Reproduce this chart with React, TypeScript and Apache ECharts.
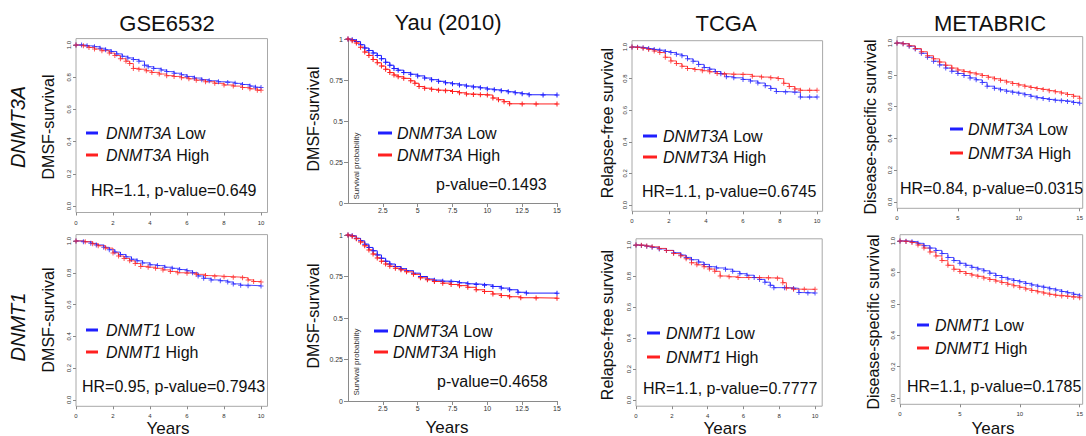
import React, { useEffect, useRef } from 'react';
import * as echarts from 'echarts';

type Pt = [number, number];

// ---------- text content ----------
const columnTitles = ['GSE6532', 'Yau (2010)', 'TCGA', 'METABRIC'];
const rowGenes = ['DNMT3A', 'DNMT1'];
const yAxisNames = ['DMSF-survival', 'DMSF-survival', 'Relapse-free survival', 'Disease-specific survival'];
const legendGenes = [
  ['DNMT3A', 'DNMT3A', 'DNMT3A', 'DNMT3A'],
  ['DNMT1', 'DNMT3A', 'DNMT1', 'DNMT1'],
];
const statTexts = [
  ['HR=1.1, p-value=0.649', 'p-value=0.1493', 'HR=1.1, p-value=0.6745', 'HR=0.84, p-value=0.0315'],
  ['HR=0.95, p-value=0.7943', 'p-value=0.4658', 'HR=1.1, p-value=0.7777', 'HR=1.1, p-value=0.1785'],
];
const xTicks10 = [0, 2, 4, 6, 8, 10];
const xTicks15 = [0, 5, 10, 15];
const yauXTicks = [2.5, 5, 7.5, 10, 12.5, 15];
const rYTicks = [0, 0.2, 0.4, 0.6, 0.8, 1];
const yauYTicks = [0, 0.25, 0.5, 0.75, 1];

// ---------- survival curves (time in years, survival probability) ----------
const gseA_low: Pt[] = [[0,1],[0.3,1],[0.6,0.995],[1.0,0.99],[1.3,0.98],[1.6,0.97],[1.9,0.96],[2.2,0.945],[2.5,0.93],[2.8,0.92],[3.1,0.91],[3.4,0.9],[3.7,0.875],[3.9,0.865],[4.2,0.855],[4.6,0.845],[4.9,0.835],[5.3,0.825],[5.7,0.815],[6.0,0.805],[6.4,0.795],[6.8,0.785],[7.2,0.778],[7.7,0.772],[8.2,0.768],[8.6,0.762],[9.0,0.755],[9.4,0.745],[9.7,0.738],[10,0.737]];
const gseA_high: Pt[] = [[0,1],[0.4,0.995],[0.7,0.985],[1.0,0.975],[1.4,0.965],[1.8,0.95],[2.1,0.935],[2.4,0.915],[2.7,0.9],[2.9,0.885],[3.1,0.855],[3.4,0.85],[3.8,0.84],[4.1,0.83],[4.5,0.82],[4.9,0.81],[5.3,0.805],[5.7,0.797],[6.1,0.79],[6.5,0.782],[7.0,0.772],[7.5,0.762],[8.0,0.752],[8.5,0.745],[9.0,0.736],[9.4,0.728],[9.8,0.72],[10,0.72]];
const gse1_low: Pt[] = [[0,1],[0.4,0.995],[0.8,0.985],[1.1,0.975],[1.5,0.96],[1.8,0.945],[2.1,0.93],[2.4,0.915],[2.7,0.9],[3.0,0.885],[3.3,0.875],[3.6,0.862],[4.0,0.85],[4.4,0.845],[4.8,0.835],[5.2,0.828],[5.6,0.82],[6.0,0.812],[6.3,0.8],[6.6,0.78],[6.9,0.765],[7.3,0.755],[7.8,0.75],[8.2,0.742],[8.5,0.73],[8.9,0.722],[9.3,0.718],[10,0.717]];
const gse1_high: Pt[] = [[0,1],[0.5,0.995],[0.9,0.982],[1.2,0.97],[1.6,0.955],[2.0,0.925],[2.3,0.905],[2.6,0.89],[2.9,0.875],[3.2,0.858],[3.5,0.84],[3.9,0.835],[4.3,0.828],[4.7,0.818],[5.1,0.808],[5.5,0.8],[6.0,0.797],[6.5,0.79],[7.0,0.782],[7.5,0.778],[8.0,0.775],[8.5,0.772],[9.0,0.768],[9.3,0.755],[9.6,0.745],[10,0.742]];

const yauA_low: Pt[] = [[0,1],[0.3,0.995],[0.6,0.985],[0.9,0.965],[1.2,0.945],[1.5,0.93],[1.8,0.915],[2.1,0.9],[2.4,0.88],[2.7,0.858],[3.0,0.84],[3.3,0.82],[3.6,0.81],[4.0,0.795],[4.5,0.785],[5.0,0.775],[5.5,0.762],[6.0,0.752],[6.5,0.742],[7.0,0.733],[7.5,0.727],[8.0,0.72],[8.5,0.713],[9.0,0.708],[9.5,0.702],[10.0,0.695],[10.5,0.69],[11.0,0.685],[11.5,0.678],[12.0,0.672],[12.5,0.666],[13.0,0.66],[14.0,0.659],[15,0.659]];
const yauA_high: Pt[] = [[0,1],[0.3,0.99],[0.6,0.975],[0.9,0.95],[1.2,0.92],[1.5,0.9],[1.8,0.875],[2.1,0.855],[2.4,0.835],[2.7,0.815],[3.0,0.795],[3.3,0.78],[3.6,0.77],[4.0,0.76],[4.5,0.745],[4.8,0.73],[5.1,0.71],[5.5,0.7],[6.0,0.693],[6.5,0.688],[7.0,0.685],[7.5,0.68],[8.0,0.672],[8.5,0.665],[9.0,0.662],[9.5,0.66],[10.0,0.658],[10.4,0.64],[10.8,0.63],[11.2,0.618],[11.6,0.605],[12.5,0.604],[13.5,0.604],[15,0.604]];
const yau1_low: Pt[] = [[0,1],[0.3,0.995],[0.6,0.98],[0.9,0.965],[1.2,0.945],[1.5,0.925],[1.8,0.905],[2.1,0.88],[2.4,0.86],[2.7,0.842],[3.0,0.825],[3.4,0.81],[3.8,0.797],[4.2,0.785],[4.7,0.77],[5.2,0.75],[5.7,0.735],[6.2,0.728],[6.8,0.722],[7.4,0.718],[8.0,0.712],[8.6,0.706],[9.2,0.702],[9.8,0.698],[10.4,0.69],[11.0,0.68],[11.6,0.67],[12.2,0.655],[12.8,0.65],[15,0.649]];
const yau1_high: Pt[] = [[0,1],[0.3,0.993],[0.6,0.978],[0.9,0.958],[1.2,0.935],[1.5,0.91],[1.8,0.885],[2.1,0.862],[2.4,0.842],[2.7,0.825],[3.0,0.812],[3.4,0.8],[3.8,0.79],[4.2,0.778],[4.7,0.763],[5.2,0.742],[5.7,0.73],[6.2,0.72],[6.8,0.71],[7.4,0.702],[8.0,0.695],[8.6,0.685],[9.2,0.67],[9.8,0.66],[10.4,0.645],[11.0,0.635],[11.6,0.628],[12.4,0.622],[13.5,0.62],[15,0.619]];

const tcgaA_low: Pt[] = [[0,1],[0.3,0.998],[0.6,0.995],[0.9,0.99],[1.2,0.985],[1.5,0.98],[1.8,0.972],[2.1,0.965],[2.4,0.955],[2.7,0.945],[3.0,0.925],[3.3,0.91],[3.6,0.89],[3.9,0.87],[4.2,0.86],[4.5,0.845],[4.8,0.83],[5.1,0.812],[5.5,0.805],[6.0,0.795],[6.4,0.785],[6.8,0.772],[7.2,0.755],[7.5,0.738],[7.8,0.718],[8.3,0.715],[8.8,0.714],[9.1,0.683],[9.6,0.683],[10,0.683]];
const tcgaA_high: Pt[] = [[0,1],[0.3,0.997],[0.6,0.992],[0.9,0.985],[1.2,0.975],[1.5,0.965],[1.8,0.935],[2.1,0.912],[2.4,0.895],[2.7,0.878],[3.0,0.864],[3.4,0.857],[3.8,0.85],[4.2,0.843],[4.6,0.832],[5.0,0.828],[5.5,0.828],[6.0,0.826],[6.5,0.815],[7.0,0.81],[7.5,0.805],[7.9,0.8],[8.2,0.77],[8.5,0.75],[8.8,0.735],[9.1,0.726],[9.6,0.726],[10,0.726]];
const tcga1_low: Pt[] = [[0,1],[0.3,0.997],[0.6,0.992],[0.9,0.985],[1.3,0.975],[1.7,0.965],[2.1,0.95],[2.5,0.935],[2.8,0.92],[3.1,0.905],[3.5,0.89],[3.8,0.875],[4.1,0.86],[4.5,0.852],[5.0,0.844],[5.4,0.83],[5.8,0.815],[6.2,0.805],[6.6,0.79],[6.9,0.778],[7.2,0.76],[7.5,0.74],[7.7,0.725],[8.3,0.724],[8.8,0.72],[9.1,0.693],[9.6,0.69],[10,0.69]];
const tcga1_high: Pt[] = [[0,1],[0.3,0.998],[0.6,0.993],[0.9,0.988],[1.3,0.978],[1.7,0.965],[2.1,0.945],[2.5,0.93],[2.8,0.912],[3.1,0.885],[3.4,0.872],[3.8,0.86],[4.1,0.845],[4.4,0.83],[4.7,0.8],[5.2,0.795],[5.7,0.79],[6.3,0.79],[6.9,0.788],[7.4,0.788],[7.9,0.785],[8.2,0.757],[8.4,0.722],[8.8,0.715],[9.4,0.714],[10,0.714]];

const metaA_low: Pt[] = [[0,1],[0.5,0.995],[1.0,0.98],[1.5,0.962],[2.0,0.935],[2.5,0.91],[3.0,0.885],[3.5,0.862],[4.0,0.842],[4.5,0.822],[5.0,0.808],[5.5,0.795],[6.0,0.78],[6.5,0.768],[7.0,0.752],[7.4,0.728],[8.0,0.715],[8.5,0.705],[9.0,0.697],[9.5,0.69],[10.0,0.684],[10.5,0.675],[11.0,0.665],[11.5,0.656],[12.0,0.65],[12.5,0.645],[13.0,0.64],[13.5,0.636],[14.0,0.632],[14.5,0.626],[15,0.621]];
const metaA_high: Pt[] = [[0,1],[0.5,0.995],[1.0,0.982],[1.5,0.965],[2.0,0.945],[2.5,0.92],[3.0,0.9],[3.5,0.88],[4.0,0.86],[4.5,0.842],[5.0,0.83],[5.5,0.82],[6.0,0.812],[6.5,0.805],[7.0,0.795],[7.5,0.785],[8.0,0.775],[8.5,0.765],[9.0,0.755],[9.5,0.745],[10.0,0.736],[10.5,0.728],[11.0,0.72],[11.5,0.713],[12.0,0.708],[12.5,0.7],[13.0,0.693],[13.5,0.685],[14.0,0.676],[14.5,0.665],[15,0.652]];
const meta1_low: Pt[] = [[0,1],[0.5,0.998],[1.0,0.995],[1.5,0.985],[2.0,0.97],[2.5,0.955],[3.0,0.94],[3.5,0.92],[4.0,0.895],[4.5,0.875],[5.0,0.858],[5.5,0.845],[6.0,0.832],[6.5,0.822],[7.0,0.81],[7.5,0.795],[8.0,0.78],[8.5,0.768],[9.0,0.758],[9.5,0.748],[10.0,0.74],[10.5,0.73],[11.0,0.72],[11.5,0.712],[12.0,0.705],[12.5,0.696],[13.0,0.688],[13.5,0.678],[14.0,0.67],[14.5,0.66],[15,0.652]];
const meta1_high: Pt[] = [[0,1],[0.5,0.997],[1.0,0.99],[1.5,0.975],[2.0,0.955],[2.5,0.93],[3.0,0.905],[3.5,0.875],[4.0,0.845],[4.5,0.82],[5.0,0.805],[5.5,0.793],[6.0,0.783],[6.5,0.775],[7.0,0.765],[7.5,0.755],[8.0,0.745],[8.5,0.735],[9.0,0.725],[9.5,0.715],[10.0,0.705],[10.5,0.695],[11.0,0.685],[11.5,0.676],[12.0,0.668],[12.5,0.66],[13.0,0.654],[13.5,0.65],[14.0,0.646],[14.5,0.642],[15,0.639]];

// ---------- layout (pixels) ----------
const FF = "'Liberation Sans', Arial, Helvetica, sans-serif";
const BLUE = '#1f1fff';
const RED = '#ff2020';
const PLUS = 'path://M2,0H3V2H5V3H3V5H2V3H0V2H2Z';

type Panel = {
  row: number; col: number; yau: boolean;
  left: number; top: number; width: number; height: number;
  xMax: number; xTicks: number[];
  low: Pt[]; high: Pt[];
  lx1: number; lx2: number; ly: number; ly2: number; tx: number;
  sx: number; sy: number; nx: number; ny: number;
};

const panels: Panel[] = [
  { row: 0, col: 0, yau: false, left: 76, top: 38.6, width: 191.5, height: 173.9, xMax: 10.35, xTicks: xTicks10, low: gseA_low, high: gseA_high, lx1: 86, lx2: 98, ly: 133, ly2: 155, tx: 106, sx: 91, sy: 190, nx: 48, ny: 127 },
  { row: 0, col: 1, yau: true, left: 348, top: 39, width: 209, height: 164, xMax: 15, xTicks: yauXTicks, low: yauA_low, high: yauA_high, lx1: 378, lx2: 392, ly: 133, ly2: 155, tx: 397, sx: 436, sy: 184, nx: 313, ny: 119 },
  { row: 0, col: 2, yau: false, left: 632, top: 40.7, width: 190.6, height: 170.6, xMax: 10.3, xTicks: xTicks10, low: tcgaA_low, high: tcgaA_high, lx1: 643, lx2: 657, ly: 136, ly2: 157, tx: 663, sx: 642, sy: 191, nx: 607, ny: 123 },
  { row: 0, col: 3, yau: false, left: 897, top: 36.6, width: 186, height: 171.7, xMax: 15.25, xTicks: xTicks15, low: metaA_low, high: metaA_high, lx1: 950, lx2: 963, ly: 129, ly2: 153, tx: 968, sx: 900, sy: 188, nx: 870, ny: 127 },
  { row: 1, col: 0, yau: false, left: 76, top: 234.6, width: 191.5, height: 171.7, xMax: 10.35, xTicks: xTicks10, low: gse1_low, high: gse1_high, lx1: 86, lx2: 98, ly: 330, ly2: 352, tx: 106, sx: 82, sy: 386, nx: 48, ny: 320 },
  { row: 1, col: 1, yau: true, left: 348, top: 235, width: 209, height: 166, xMax: 15, xTicks: yauXTicks, low: yau1_low, high: yau1_high, lx1: 374, lx2: 388, ly: 331, ly2: 352, tx: 393, sx: 437, sy: 381, nx: 313, ny: 316 },
  { row: 1, col: 2, yau: false, left: 636, top: 238.8, width: 186.2, height: 167.4, xMax: 10.4, xTicks: xTicks10, low: tcga1_low, high: tcga1_high, lx1: 647, lx2: 660, ly: 333, ly2: 357, tx: 666, sx: 643, sy: 388, nx: 607, ny: 325 },
  { row: 1, col: 3, yau: false, left: 900, top: 234.7, width: 185, height: 169.6, xMax: 15.25, xTicks: xTicks15, low: meta1_low, high: meta1_high, lx1: 917, lx2: 929, ly: 325, ly2: 348, tx: 935, sx: 907, sy: 386, nx: 873, ny: 322 },
];

const titlePos = [[167, 23], [448, 22], [726, 23], [990, 23]];
const rowLabelPos = [[18, 127], [18, 327]];
const yearsPos = [[168, 428], [447, 427], [725, 428], [993, 428]];
const survProbPos = [[356, 166], [356, 362]];

function text(t: string, x: number, y: number, size: number, opts: any = {}) {
  return {
    type: 'text', x, y, rotation: opts.rot || 0, silent: true,
    style: {
      text: t, fontSize: size, fontFamily: FF, fontStyle: opts.italic ? 'italic' : 'normal',
      fill: opts.color || '#111', textAlign: opts.align || 'left', textVerticalAlign: 'middle',
      rich: opts.rich,
    },
  };
}

function buildOption() {
  const grid: any[] = [];
  const xAxis: any[] = [];
  const yAxis: any[] = [];
  const series: any[] = [];
  const graphic: any[] = [];

  panels.forEach((p, i) => {
    grid.push({
      left: p.left, top: p.top, width: p.width, height: p.height,
      show: !p.yau, borderColor: '#a8a8a8', borderWidth: 1, backgroundColor: 'transparent',
    });
    const axisColor = '#8a8a8a';
    xAxis.push({
      type: 'value', gridIndex: i, min: 0, max: p.xMax,
      axisLine: { show: p.yau, onZero: false, lineStyle: { color: axisColor } },
      axisTick: { show: true, inside: false, length: p.yau ? 4 : 3, customValues: p.xTicks, lineStyle: { color: axisColor } },
      axisLabel: {
        customValues: p.xTicks, fontSize: p.yau ? 7 : 6, color: '#333', fontFamily: FF,
        margin: p.yau ? 4 : 7, formatter: (v: number) => String(v),
      },
      splitLine: { show: false },
    });
    const yTicks = p.yau ? yauYTicks : rYTicks;
    yAxis.push({
      type: 'value', gridIndex: i, min: p.yau ? 0 : -0.04, max: p.yau ? 1 : 1.04,
      axisLine: { show: p.yau, onZero: false, lineStyle: { color: axisColor } },
      axisTick: { show: true, inside: false, length: p.yau ? 4 : 3, customValues: yTicks, lineStyle: { color: axisColor } },
      axisLabel: {
        customValues: yTicks, fontSize: p.yau ? 7 : 6, color: '#333', fontFamily: FF,
        margin: p.yau ? 5 : 4, rotate: p.yau ? 0 : 90,
        formatter: (v: number) => (p.yau ? String(v) : v.toFixed(1)),
      },
      splitLine: { show: false },
    });
    const common = {
      type: 'line', xAxisIndex: i, yAxisIndex: i, step: 'end', symbol: PLUS, symbolSize: 5,
      showSymbol: true, showAllSymbol: true, silent: true, animation: false,
    };
    series.push({ ...common, name: `low${i}`, data: p.low, lineStyle: { color: BLUE, width: 1, opacity: p.yau ? 1 : 0.8 }, itemStyle: { color: BLUE, opacity: p.yau ? 1 : 0.75 } });
    series.push({ ...common, name: `high${i}`, data: p.high, lineStyle: { color: RED, width: 1, opacity: p.yau ? 1 : 0.8 }, itemStyle: { color: RED, opacity: p.yau ? 1 : 0.75 } });

    // legend
    const gene = legendGenes[p.row][p.col];
    graphic.push({ type: 'line', silent: true, shape: { x1: p.lx1, y1: p.ly, x2: p.lx2, y2: p.ly }, style: { stroke: BLUE, lineWidth: 3 } });
    graphic.push({ type: 'line', silent: true, shape: { x1: p.lx1, y1: p.ly2, x2: p.lx2, y2: p.ly2 }, style: { stroke: RED, lineWidth: 3 } });
    const rich = {
      g: { fontStyle: 'italic', fontSize: 16, fontFamily: FF, fill: '#111' },
      n: { fontStyle: 'normal', fontSize: 16, fontFamily: FF, fill: '#111' },
    };
    graphic.push(text(`{g|${gene}}{n| Low}`, p.tx, p.ly, 16, { rich }));
    graphic.push(text(`{g|${gene}}{n| High}`, p.tx, p.ly2, 16, { rich }));
    graphic.push(text(statTexts[p.row][p.col], p.sx, p.sy, 16));
    graphic.push(text(yAxisNames[p.col], p.nx, p.ny, 16, { rot: Math.PI / 2, align: 'center' }));
  });

  columnTitles.forEach((t, c) => graphic.push(text(t, titlePos[c][0], titlePos[c][1], 22, { align: 'center' })));
  rowGenes.forEach((g, r) => graphic.push(text(g, rowLabelPos[r][0], rowLabelPos[r][1], 20, { align: 'center', italic: true, rot: Math.PI / 2 })));
  yearsPos.forEach((pos) => graphic.push(text('Years', pos[0], pos[1], 17, { align: 'center' })));
  survProbPos.forEach((pos) => graphic.push(text('Survival probability', pos[0], pos[1], 8, { align: 'center', rot: Math.PI / 2, color: '#333' })));

  return {
    animation: false,
    backgroundColor: '#ffffff',
    grid, xAxis, yAxis, series, graphic,
  };
}

export default function App() {
  const ref = useRef<HTMLDivElement>(null);
  useEffect(() => {
    if (!ref.current) return;
    const chart = echarts.init(ref.current, null, { renderer: 'svg' });
    chart.setOption(buildOption() as any);
    return () => chart.dispose();
  }, []);
  return <div ref={ref} style={{ position: 'fixed', left: 0, top: 0, width: 1086, height: 436, background: '#fff' }} />;
}
